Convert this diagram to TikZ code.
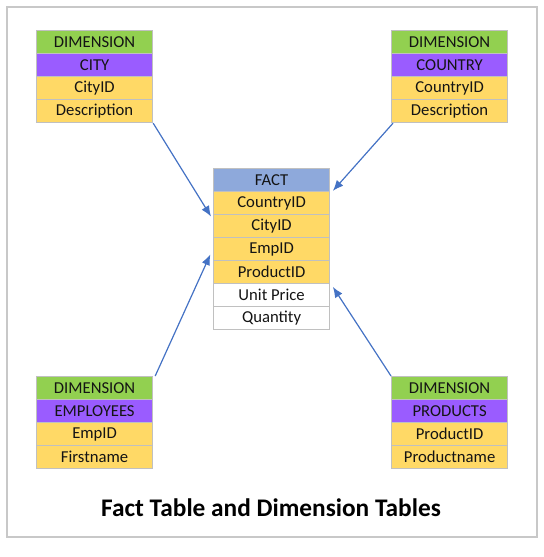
\documentclass[tikz,border=0pt]{standalone}
\usepackage{fontspec}
\setmainfont{Carlito}
\usetikzlibrary{arrows.meta}
\definecolor{dimgreen}{HTML}{92D050}
\definecolor{dimpurple}{HTML}{9A5CFF}
\definecolor{cellyellow}{HTML}{FFD966}
\definecolor{factblue}{HTML}{8EA9DB}
\definecolor{cellborder}{HTML}{C0C0C0}
\definecolor{arrowblue}{HTML}{4472C4}
\definecolor{framegray}{HTML}{C8C8C8}
\definecolor{txt}{HTML}{141414}
\tikzset{
  cell/.style={draw=cellborder, line width=0.9pt, anchor=north west, minimum width=87pt, minimum height=17.25pt, inner sep=0pt, font=\fontsize{12.5}{14}\selectfont, text=txt},
  greencell/.style={cell, fill=dimgreen},
  purplecell/.style={cell, fill=dimpurple},
  yellowcell/.style={cell, fill=cellyellow},
  bluecell/.style={cell, fill=factblue},
  whitecell/.style={cell, fill=white},
  link/.style={draw=arrowblue, line width=0.9pt, -{Latex[length=8pt,width=6.5pt]}},
}
\begin{document}
\begin{tikzpicture}[x=0.75pt,y=-0.75pt]
\useasboundingbox (0,0) rectangle (543,557);
\draw[framegray, line width=1.5pt] (7,7) rectangle (537,537);
% CITY
\node[greencell]  (c1) at (36,30) {DIMENSION};
\node[purplecell] (c2) at (36,53) {CITY};
\node[yellowcell] (c3) at (36,76) {CityID};
\node[yellowcell] (c4) at (36,99) {Description};
% COUNTRY
\node[greencell]  (k1) at (391,30) {DIMENSION};
\node[purplecell] (k2) at (391,53) {COUNTRY};
\node[yellowcell] (k3) at (391,76) {CountryID};
\node[yellowcell] (k4) at (391,99) {Description};
% FACT
\node[bluecell]   (f1) at (213,168) {FACT};
\node[yellowcell] (f2) at (213,191) {CountryID};
\node[yellowcell] (f3) at (213,214) {CityID};
\node[yellowcell] (f4) at (213,237) {EmpID};
\node[yellowcell] (f5) at (213,260) {ProductID};
\node[whitecell]  (f6) at (213,283) {Unit Price};
\node[whitecell]  (f7) at (213,306) {Quantity};
% EMPLOYEES
\node[greencell]  (e1) at (36,376) {DIMENSION};
\node[purplecell] (e2) at (36,399) {EMPLOYEES};
\node[yellowcell] (e3) at (36,422) {EmpID};
\node[yellowcell] (e4) at (36,445) {Firstname};
% PRODUCTS
\node[greencell]  (p1) at (391,376) {DIMENSION};
\node[purplecell] (p2) at (391,399) {PRODUCTS};
\node[yellowcell] (p3) at (391,422) {ProductID};
\node[yellowcell] (p4) at (391,445) {Productname};
% arrows
\draw[link] (c4.south east) -- ([xshift=-1.5pt,yshift=-1pt]f2.south west);
\draw[link] ([xshift=1.5pt]k4.south west) -- ([xshift=2pt,yshift=1pt]f1.south east);
\draw[link] ([xshift=1.5pt]e1.north east) -- ([xshift=-2pt,yshift=-4pt]f4.west);
\draw[link] (p1.north west) -- ([xshift=2pt,yshift=-2pt]f5.south east);
% title
\node[font=\bfseries\fontsize{19}{22}\selectfont, text=black] (title) at (271,508) {Fact Table and Dimension Tables};
\end{tikzpicture}
\end{document}
